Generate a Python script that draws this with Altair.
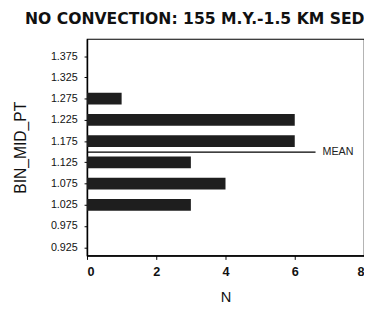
import altair as alt
import pandas as pd

bins = [1.275, 1.225, 1.175, 1.125, 1.075, 1.025]
counts = [1, 6, 6, 3, 4, 3]
y_ticks = [0.925, 0.975, 1.025, 1.075, 1.125, 1.175, 1.225, 1.275, 1.325, 1.375]
x_ticks = [0, 2, 4, 6, 8]
mean_val = 1.149
mean_line_end = 6.6
mean_label = "MEAN"
title = "NO CONVECTION: 155 M.Y.-1.5 KM SED"

df = pd.DataFrame({"BIN_MID_PT": bins, "N": counts})
mean_df = pd.DataFrame({"y": [mean_val], "x0": [0], "x1": [mean_line_end], "xt": [mean_line_end + 0.2], "label": [mean_label]})

font = "Liberation Sans"
W, H = 284, 222
xs = alt.Scale(domain=[0, 8], nice=False)
ys = alt.Scale(domain=[0.917, 1.404], nice=False, zero=False)

x_axis = alt.Axis(values=x_ticks, format="d", tickSize=4, labelPadding=6, titlePadding=12, grid=False,
                  labelFont=font, titleFont=font, labelFontSize=13, labelFontWeight="bold",
                  titleFontSize=15, titleFontWeight="normal", labelColor="#111", titleColor="#111",
                  domainColor="#000", tickColor="#000", domainWidth=1.5, labelOverlap=False)
y_axis = alt.Axis(values=y_ticks, format=".3f", tickSize=3, labelPadding=7, grid=False,
                  labelFont=font, titleFont=font, labelFontSize=11, labelFontWeight="normal",
                  titleFontSize=16, titleFontWeight="normal", labelColor="#111", titleColor="#111",
                  titleX=-68, titleY=H / 2, titleAngle=-90, titleBaseline="middle", titleAlign="center",
                  domainColor="#000", tickColor="#000", domainWidth=1.5, labelOverlap=False)

bars = alt.Chart(df).mark_bar(color="#1e1e1e", orient="horizontal", size=12).encode(
    x=alt.X("N:Q", scale=xs, title="N", axis=x_axis),
    y=alt.Y("BIN_MID_PT:Q", scale=ys, title="BIN_MID_PT", axis=y_axis),
)

rule = alt.Chart(mean_df).mark_rule(color="#000", strokeWidth=1.5).encode(
    x=alt.X("x0:Q", scale=xs, title="N", axis=x_axis), x2="x1:Q",
    y=alt.Y("y:Q", scale=ys, title="BIN_MID_PT", axis=y_axis)
)
txt = alt.Chart(mean_df).mark_text(align="left", baseline="middle", font=font, fontSize=11, color="#222").encode(
    x=alt.X("xt:Q", scale=xs, title="N", axis=x_axis),
    y=alt.Y("y:Q", scale=ys, title="BIN_MID_PT", axis=y_axis), text="label:N"
)

chart = alt.layer(bars, rule, txt).properties(
    width=W, height=H,
    title=alt.TitleParams(title, font="DejaVu Sans", fontSize=16, fontWeight="bold", color="#111", offset=12, anchor="end"),
    autosize=alt.AutoSizeParams(type="none"),
    padding={"left": 81, "top": 28, "right": 0, "bottom": 48},
).configure_view(stroke="#000", strokeWidth=1.2)

chart.save("out.html", embed_options={"renderer": "svg", "actions": False})
